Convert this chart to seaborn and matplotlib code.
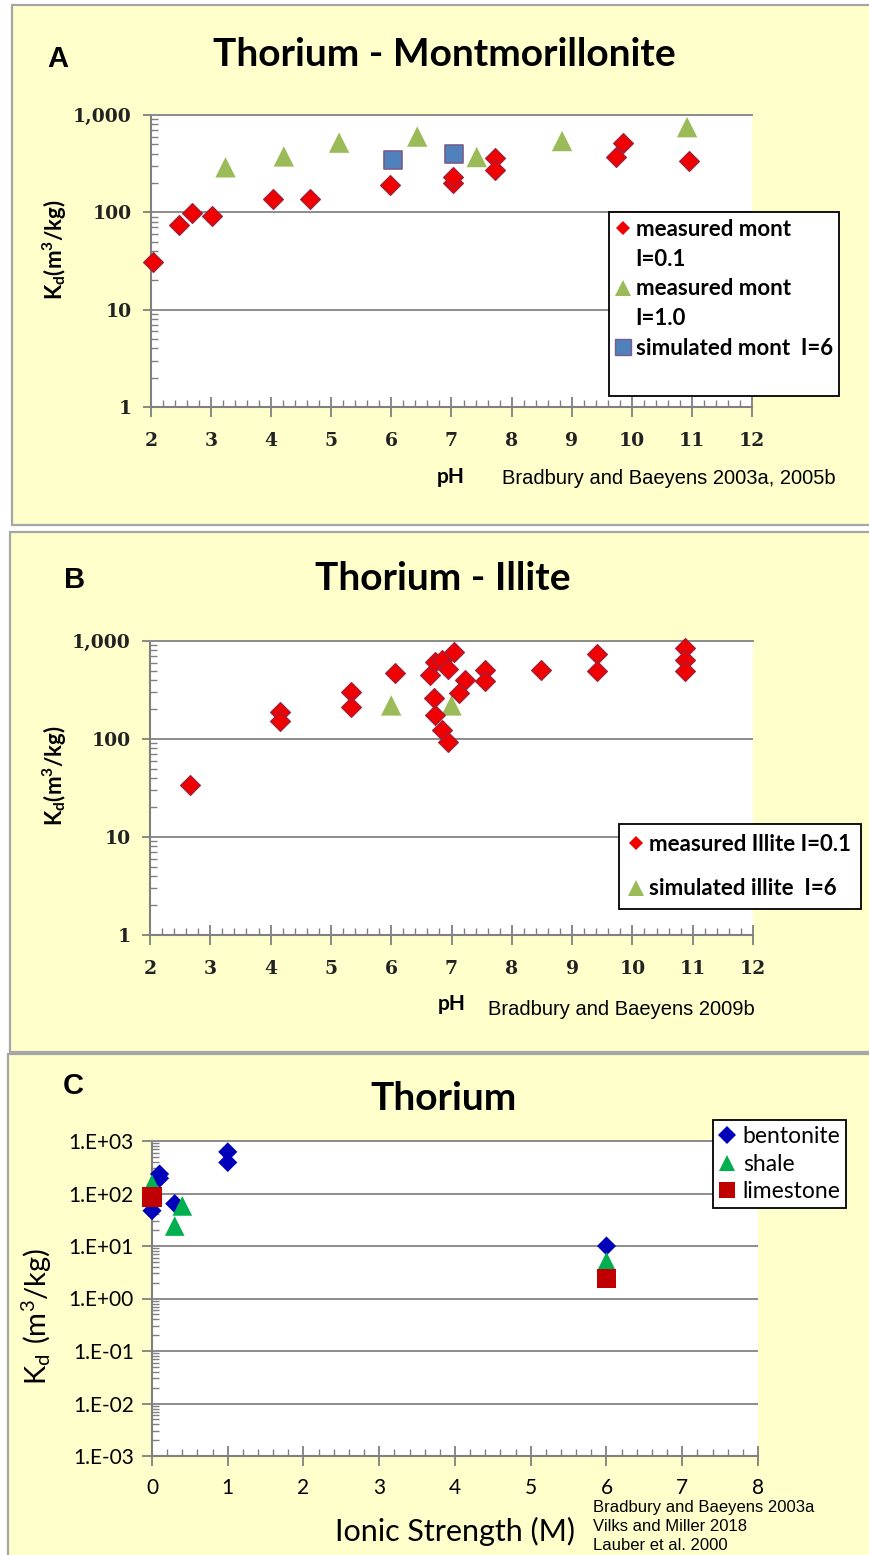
import matplotlib
matplotlib.use("Agg")
import matplotlib.pyplot as plt
import matplotlib.ticker as mticker
from matplotlib.patches import Rectangle
from matplotlib.lines import Line2D
import numpy as np
import seaborn as sns

W, H, DPI = 870, 1555, 100

# ---- Panel A: Th sorption on montmorillonite vs pH ----
mont_i01_ph = [2.04, 2.47, 2.69, 3.02, 4.03, 4.65, 5.98, 7.02, 7.02, 7.73, 7.73, 9.73, 9.85, 10.96]
mont_i01_kd = [31, 74, 98, 91, 138, 138, 193, 200, 230, 360, 270, 370, 520, 340]
mont_i10_ph = [3.24, 4.21, 5.13, 6.43, 7.42, 8.84, 10.92]
mont_i10_kd = [290, 375, 520, 600, 370, 540, 750]
mont_sim_ph = [6.03, 7.04]
mont_sim_kd = [345, 395]

# ---- Panel B: Th sorption on illite vs pH ----
illite_i01_ph = [2.67, 4.15, 4.15, 5.34, 5.34, 6.07, 6.65, 6.72, 6.84, 7.04, 6.95, 7.22,
                 7.12, 6.71, 6.73, 6.85, 6.94, 7.56, 7.56, 8.49, 9.41, 9.41, 10.88, 10.88, 10.88]
illite_i01_kd = [34, 190, 152, 300, 210, 470, 445, 615, 640, 770, 515, 400,
                 292, 262, 177, 124, 93, 505, 387, 508, 740, 490, 850, 640, 500]
illite_sim_ph = [6.0, 7.0]
illite_sim_kd = [220, 220]

# ---- Panel C: Th sorption vs ionic strength ----
bent_is = [0.0, 0.1, 0.1, 0.3, 1.0, 1.0, 6.0]
bent_kd = [47, 235, 195, 64, 620, 390, 10]
shale_is = [0.0, 0.4, 0.3, 6.0]
shale_kd = [150, 58, 24, 5.0]
lime_is = [0.0, 6.0]
lime_kd = [85, 2.4]

PANEL_BG = "#FFFFCC"
GRID = "#8C8C8C"
AXC = "#808080"

fig = plt.figure(figsize=(W / DPI, H / DPI), dpi=DPI)
fig.patch.set_facecolor("white")


def rect(l, t, r, b):
    return [l / W, 1 - b / H, (r - l) / W, (b - t) / H]


def ftext(x, y, s, **kw):
    return fig.text(x / W, 1 - y / H, s, **kw)


def panel(l, t, r, b):
    fig.patches.append(Rectangle((l / W, 1 - b / H), (r - l) / W, (b - t) / H,
                                 transform=fig.transFigure, facecolor=PANEL_BG,
                                 edgecolor="#A6A6A6", linewidth=1.6, zorder=-5))


def style_axes(ax, xlim, ylim, ytick_fmt, tick_font):
    ax.set_zorder(2)
    ax.set_facecolor("white")
    ax.set_yscale("log")
    ax.set_xlim(*xlim)
    ax.set_ylim(*ylim)
    ax.yaxis.set_major_locator(mticker.LogLocator(base=10, numticks=20))
    ax.yaxis.set_minor_locator(mticker.LogLocator(base=10, subs=np.arange(2, 10), numticks=20))
    ax.yaxis.set_minor_formatter(mticker.NullFormatter())
    ax.yaxis.set_major_formatter(mticker.FuncFormatter(ytick_fmt))
    ax.xaxis.set_major_locator(mticker.MultipleLocator(1))
    ax.xaxis.set_minor_locator(mticker.MultipleLocator(0.2))
    ax.grid(True, which="major", axis="y", color=GRID, linewidth=1.4)
    ax.set_axisbelow(True)
    ax.spines["right"].set_visible(False)
    ax.spines["top"].set_color(GRID)
    ax.spines["top"].set_linewidth(1.4)
    for s in ("left", "bottom"):
        ax.spines[s].set_color(AXC)
        ax.spines[s].set_linewidth(1.5)
    ax.tick_params(axis="y", which="major", direction="out", length=6, width=1.3, color=AXC)
    ax.tick_params(axis="y", which="minor", direction="in", length=5, width=1.0, color=AXC)
    ax.tick_params(axis="x", which="major", direction="inout", length=14, width=1.3, color=AXC)
    ax.tick_params(axis="x", which="minor", direction="in", length=5, width=1.0, color=AXC)
    for lab in ax.get_xticklabels() + ax.get_yticklabels():
        lab.set(**tick_font)
    ax.set_xlabel("")
    ax.set_ylabel("")


serif_tick = dict(family="DejaVu Serif", fontweight="bold", fontsize=13.5, color="#222222")
sans_tick = dict(family="Lato", fontsize=15, color="black")


def comma_fmt(v, pos):
    return f"{int(round(v)):,}"


def sci_fmt(v, pos):
    e = int(round(np.log10(v)))
    return f"1.E{e:+03d}"


def scatter(ax, x, y, marker, s, face, edge, lw, z):
    sns.scatterplot(x=x, y=y, ax=ax, marker=marker, s=s, color=face,
                    edgecolor=edge, linewidth=lw, clip_on=False, zorder=z, legend=False)


def proxy(marker, ms, face, edge="none", mew=0.0):
    return Line2D([], [], linestyle="none", marker=marker, markersize=ms,
                  markerfacecolor=face, markeredgecolor=edge, markeredgewidth=mew)


blank = Line2D([], [], linestyle="none")

# ================= Panel A =================
panel(12, 5, 875, 525)
axA = fig.add_axes(rect(151, 115, 752, 407))
scatter(axA, mont_i10_ph, mont_i10_kd, "^", 215, "#9BBB59", "none", 0, 3)
scatter(axA, mont_sim_ph, mont_sim_kd, "s", 185, "#4F81BD", "#7A5C8A", 1.2, 3)
scatter(axA, mont_i01_ph, mont_i01_kd, "D", 100, "#F00000", "#A0203A", 1.0, 4)
style_axes(axA, (2, 12), (1, 1000), comma_fmt, serif_tick)
axA.tick_params(axis="y", which="major", pad=8)
axA.tick_params(axis="x", which="major", pad=11)

legA = axA.legend(
    handles=[proxy("D", 7, "#F00000"), blank, proxy("^", 11, "#9BBB59"), blank,
             proxy("s", 11, "#4F81BD", "#7A5C8A", 1.0), blank],
    labels=["measured mont", "I=0.1", "measured mont", "I=1.0", "simulated mont  I=6", ""],
    loc="upper left", bbox_to_anchor=(609 / W, 1 - 212 / H), bbox_transform=fig.transFigure,
    borderaxespad=0, frameon=True, fancybox=False, framealpha=1, edgecolor="black",
    handlelength=0.65, handletextpad=0.25, labelspacing=0.4, borderpad=0.3,
    prop=dict(family="Lato", weight="bold", size=16))
legA.get_frame().set_linewidth(1.3)

ftext(47, 67, "A", family="Liberation Sans", fontweight="bold", fontsize=21, ha="left", va="baseline")
ftext(444, 66, "Thorium - Montmorillonite", family="Lato", fontweight="bold", fontsize=28,
      ha="center", va="baseline")
ftext(55, 250, r"$\mathregular{K_d(m^3/kg)}$", family="Lato", fontweight="bold", fontsize=16,
      rotation=90, ha="center", va="center")
ftext(437, 483, "pH", family="Lato", fontweight="bold", fontsize=15, ha="left", va="baseline")
ftext(502, 484, "Bradbury and Baeyens 2003a, 2005b", family="Liberation Sans", fontsize=14.5,
      ha="left", va="baseline")

# ================= Panel B =================
panel(10, 532, 875, 1052)
axB = fig.add_axes(rect(150, 641, 753, 935))
scatter(axB, illite_sim_ph, illite_sim_kd, "^", 215, "#9BBB59", "none", 0, 3)
scatter(axB, illite_i01_ph, illite_i01_kd, "D", 100, "#F00000", "#A0203A", 1.0, 4)
style_axes(axB, (2, 12), (1, 1000), comma_fmt, serif_tick)
axB.tick_params(axis="y", which="major", pad=8)
axB.tick_params(axis="x", which="major", pad=11)

legB = axB.legend(
    handles=[proxy("D", 7, "#F00000"), proxy("^", 11, "#9BBB59")],
    labels=["measured Illite I=0.1", "simulated illite  I=6"],
    loc="upper left", bbox_to_anchor=(619 / W, 1 - 824 / H), bbox_transform=fig.transFigure,
    borderaxespad=0, frameon=True, fancybox=False, framealpha=1, edgecolor="black",
    handlelength=0.65, handletextpad=0.25, labelspacing=1.05, borderpad=0.45,
    prop=dict(family="Lato", weight="bold", size=16))
legB.get_frame().set_linewidth(1.3)

ftext(64, 588, "B", family="Liberation Sans", fontweight="bold", fontsize=21, ha="left", va="baseline")
ftext(443, 590, "Thorium - Illite", family="Lato", fontweight="bold", fontsize=28,
      ha="center", va="baseline")
ftext(55, 776, r"$\mathregular{K_d(m^3/kg)}$", family="Lato", fontweight="bold", fontsize=16,
      rotation=90, ha="center", va="center")
ftext(438, 1010, "pH", family="Lato", fontweight="bold", fontsize=15, ha="left", va="baseline")
ftext(488, 1015, "Bradbury and Baeyens 2009b", family="Liberation Sans", fontsize=14.5,
      ha="left", va="baseline")

# ================= Panel C =================
panel(8, 1054, 875, 1562)
axC = fig.add_axes(rect(152, 1141, 758, 1456))
scatter(axC, bent_is, bent_kd, "D", 95, "#0000BB", "none", 0, 3)
scatter(axC, shale_is, shale_kd, "^", 200, "#00B050", "none", 0, 4)
scatter(axC, lime_is, lime_kd, "s", 200, "#C00000", "none", 0, 5)
style_axes(axC, (0, 8), (1e-3, 1e3), sci_fmt, sans_tick)
axC.tick_params(axis="y", which="major", length=7, pad=6)
axC.tick_params(axis="x", which="major", pad=9)

legC = axC.legend(
    handles=[proxy("D", 9.5, "#0000BB"), proxy("^", 11, "#00B050"), proxy("s", 11, "#C00000")],
    labels=["bentonite", "shale", "limestone"],
    loc="upper left", bbox_to_anchor=(713 / W, 1 - 1120 / H), bbox_transform=fig.transFigure,
    borderaxespad=0, frameon=True, fancybox=False, framealpha=1, edgecolor="black",
    handlelength=0.75, handletextpad=0.3, labelspacing=0.3, borderpad=0.25,
    prop=dict(family="Lato", size=16.5))
legC.get_frame().set_linewidth(1.3)

ftext(63, 1094, "C", family="Liberation Sans", fontweight="bold", fontsize=21, ha="left", va="baseline")
ftext(444, 1110, "Thorium", family="Lato", fontweight="bold", fontsize=28,
      ha="center", va="baseline")
ftext(37, 1316, r"$\mathregular{K_d\ (m^3/kg)}$", family="Lato", fontsize=21,
      rotation=90, ha="center", va="center")
ftext(455, 1541, "Ionic Strength (M)", family="Lato", fontsize=22, ha="center", va="baseline")
for i, line in enumerate(["Bradbury and Baeyens 2003a", "Vilks and Miller 2018", "Lauber et al. 2000"]):
    ftext(593, 1512 + 19 * i, line, family="Liberation Sans", fontsize=12, ha="left", va="baseline")

fig.savefig("out.png", dpi=DPI, facecolor="white")
